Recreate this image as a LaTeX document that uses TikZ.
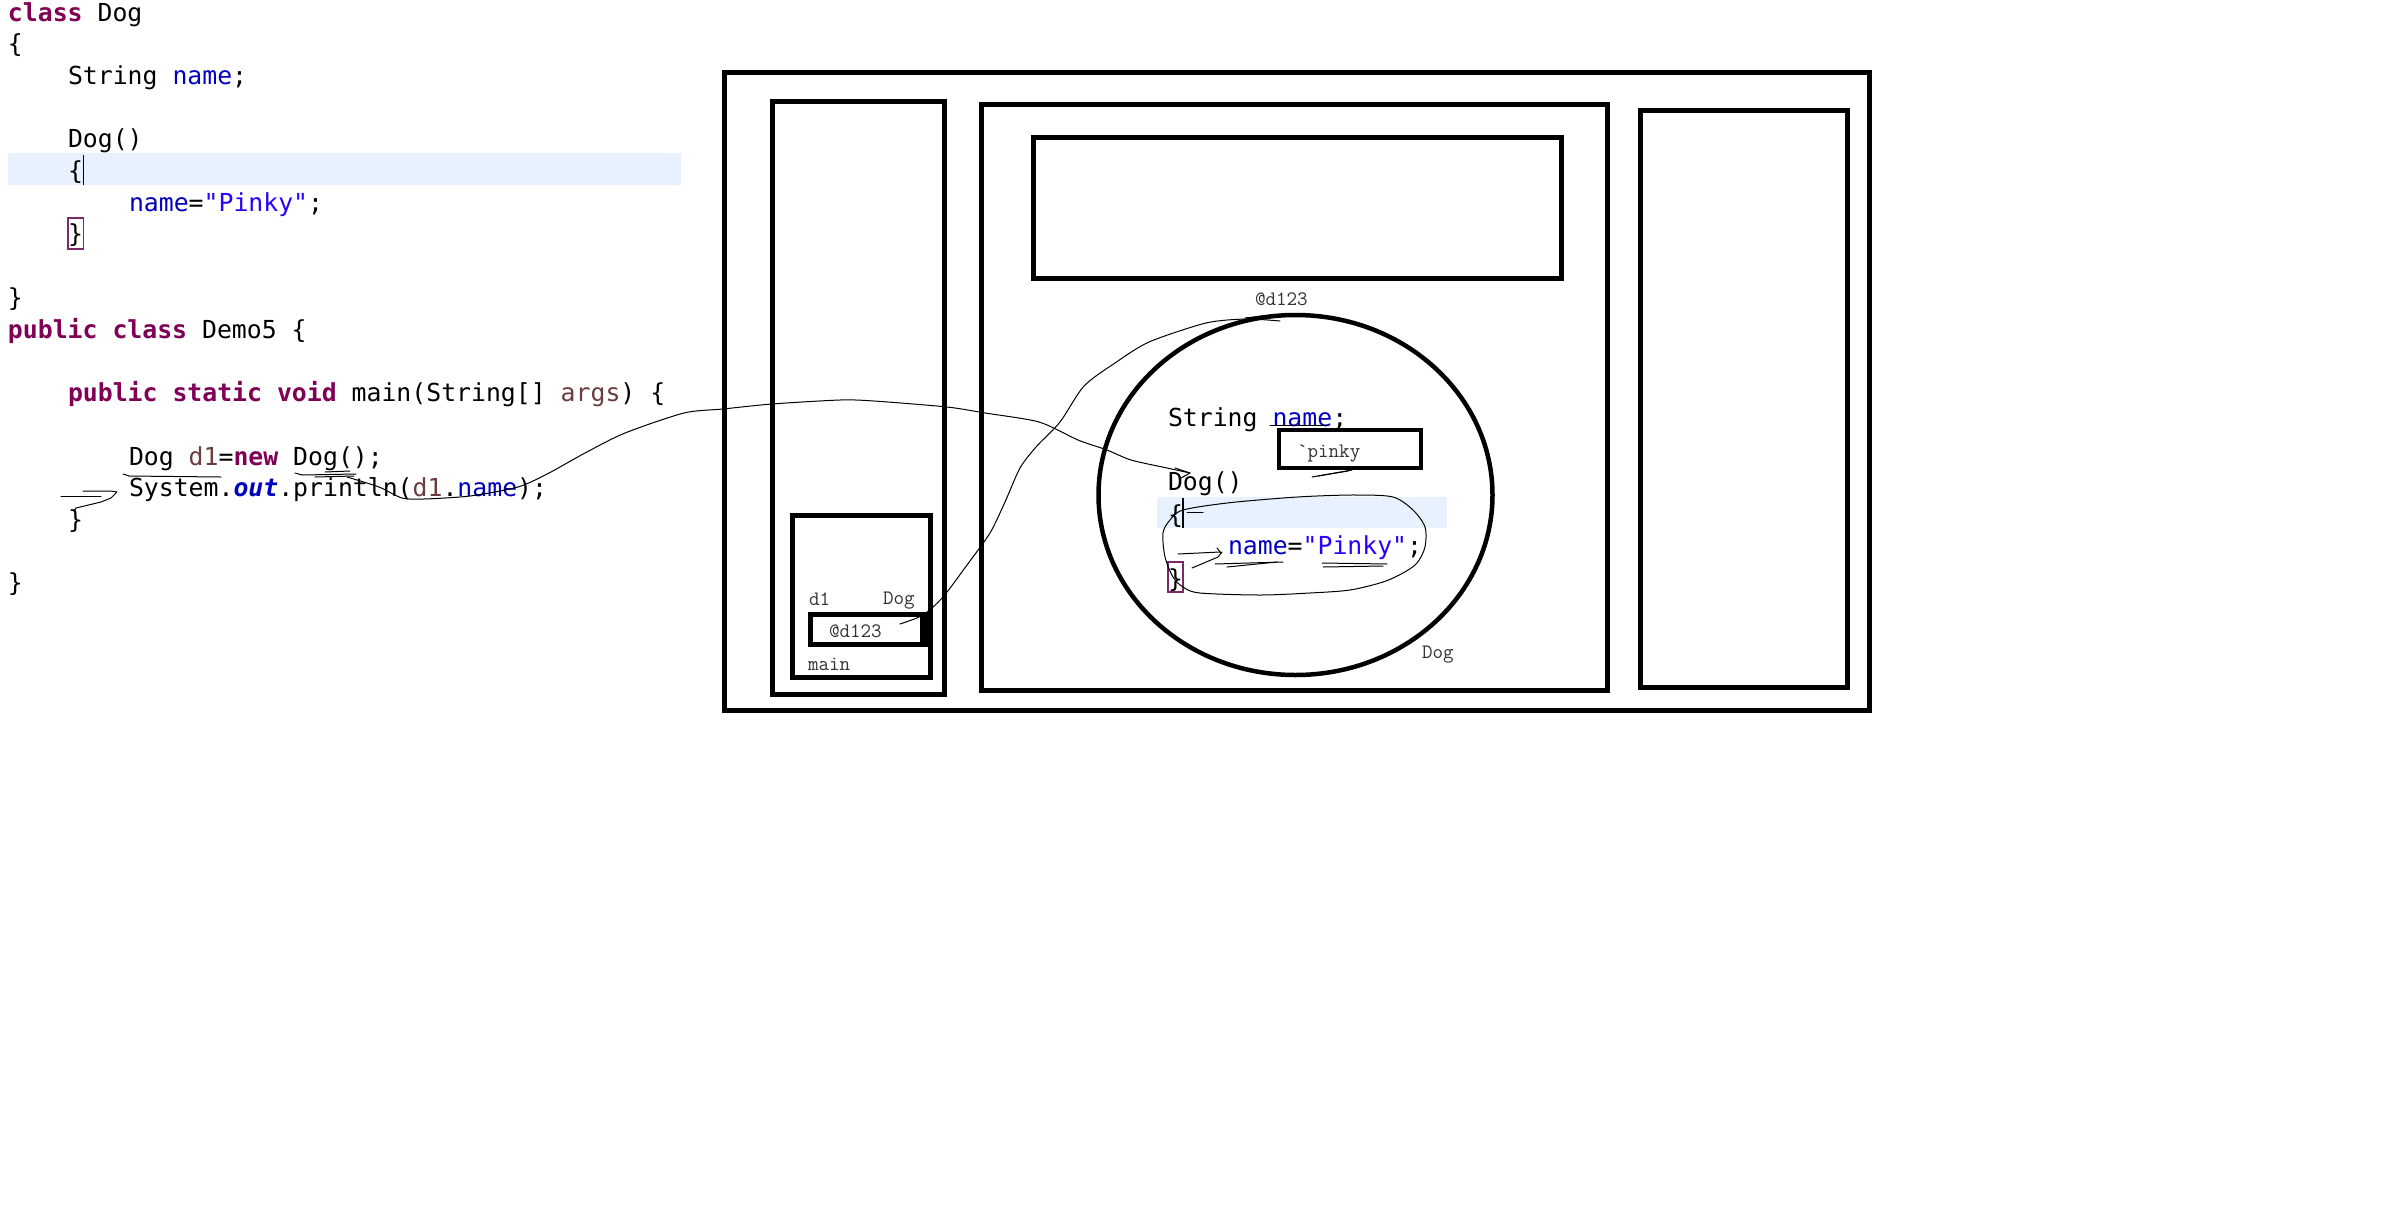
\documentclass[tikz,border=0pt]{standalone}
\usepackage{fontspec}
\newfontfamily\codefont{DejaVu Sans Mono}
\usetikzlibrary{shapes.geometric}
\definecolor{kw}{HTML}{7F0055}
\definecolor{fld}{HTML}{0000C0}
\definecolor{loc}{HTML}{6A3E3E}
\definecolor{strc}{HTML}{2A00FF}
\definecolor{hl}{HTML}{E8F2FE}
\definecolor{brk}{HTML}{7A2A66}
\newcommand\kwd[1]{\textcolor{kw}{\bfseries #1}}
\newcommand\fldn[1]{\textcolor{fld}{#1}}
\newcommand\locv[1]{\textcolor{loc}{#1}}
\newcommand\strl[1]{\textcolor{strc}{#1}}
\newcommand\outf[1]{\textcolor{fld}{\bfseries\itshape #1}}
\begin{document}
\begin{tikzpicture}[x=1pt,y=-1pt,
  code/.style={anchor=base west, inner sep=0pt, outer sep=0pt, font=\codefont\fontsize{24.8}{30}\selectfont},
  lbl/.style={anchor=base west, inner sep=0pt, outer sep=0pt, font=\ttfamily\fontsize{20.5}{24}\selectfont, text=black!80},
  box/.style={draw, line width=5pt, inner sep=0pt, outer sep=0pt},
  smallbox/.style={draw, line width=4.5pt, inner sep=0pt, outer sep=0pt},
  hand/.style={line width=1pt, line cap=round, line join=round},
  band/.style={fill=hl, draw=none},
  brbox/.style={draw=brk, line width=1.3pt},
  cursor/.style={line width=1.6pt}
]
\useasboundingbox (0,0) rectangle (2383,1208);
\fill[white] (0,0) rectangle (2383,1208);

% ---------------- left code ----------------
\fill[band] (8,153) rectangle (681,185);
\node[code] (l0)  at (8,21)    {\kwd{class} Dog};
\node[code] (l1)  at (8,52.7)  {\{};
\node[code] (l2)  at (68,84.4) {String \fldn{name};};
\node[code] (l4)  at (68,147.8) {Dog()};
\node[code] (l5)  at (68,179.5) {\{};
\draw[cursor] (83.5,155) -- (83.5,185);
\node[code] (l6)  at (129,211.2) {\fldn{name}=\strl{"Pinky"};};
\node[code] (l7)  at (68,242.9) {\}};
\draw[brbox] (68,218) rectangle (83.5,249);
\node[code] (l9)  at (8,306.3) {\}};
\node[code] (l10) at (8,338) {\kwd{public} \kwd{class} Demo5 \{};
\node[code] (l12) at (68,401.4) {\kwd{public} \kwd{static} \kwd{void} main(String[] \locv{args}) \{};
\node[code] (l14) at (129,465) {Dog \locv{d1}=\kwd{new} Dog();};
\node[code] (l15) at (129,496.5) {System.\outf{out}.println(\locv{d1}.\fldn{name});};
\node[code] (l16) at (68,528) {\}};
\node[code] (l18) at (8,591.5) {\}};

% ---------------- memory boxes ----------------
\node[box, minimum width=1145pt, minimum height=638pt] (outer) at (1296.5,391) {};
\node[box, minimum width=172pt, minimum height=593pt] (stack) at (858,397.5) {};
\node[box, minimum width=138pt, minimum height=162pt] (mainfr) at (861,596) {};
\node[smallbox, minimum width=115pt, minimum height=30pt] (refbox) at (868,629.5) {};
\fill ([xshift=-6pt,yshift=2pt]refbox.north east) rectangle ([yshift=-2pt]refbox.south east);
\node[box, minimum width=626pt, minimum height=586pt] (heap) at (1294,397) {};
\node[box, minimum width=528pt, minimum height=141pt] (pool) at (1297,207.5) {};
\node[box, minimum width=207pt, minimum height=577pt] (rightbox) at (1743.5,398.5) {};

% stack labels
\node[lbl] (d1lbl) at (809,605) {d1};
\node[lbl] (doglbl) at (883,604) {Dog};
\node[lbl] (reflbl) at (829,637) {@d123};
\node[lbl] (mainlbl) at (808,670) {main};

% ---------------- object ----------------
\node[ellipse, draw, line width=4.5pt, minimum width=394pt, minimum height=360pt, inner sep=0pt] (obj) at (1295.5,495) {};
\node[lbl] (addr) at (1255,305) {@d123};
\node[lbl] (objdog) at (1422,658) {Dog};

\fill[band] (1157,497) rectangle (1447,528);
\node[code] (e2) at (1168,426) {String \fldn{name};};
\node[smallbox, minimum width=142pt, minimum height=38pt] (pinkybox) at (1350,449) {};
\node[lbl] (pinky) at (1297,457) {`pinky};
\node[code] (e4) at (1168,490) {Dog()};
\node[code] (e5) at (1168,523) {\{};
\draw[cursor] (1183,498) -- (1183,528);
\node[code] (e6) at (1228,554) {\fldn{name}=\strl{"Pinky"};};
\node[code] (e7) at (1168,587) {\}};
\draw[brbox] (1168,562) rectangle (1183,592);

% ---------------- hand-drawn strokes ----------------
% underlines in main code
\draw[hand] (123,474) -- (129,476) -- (221,477);
\draw[hand] (295,473) -- (302,475) -- (356,474);
\draw[hand] (315,477) -- (354,476);
\draw[hand] (325,472) -- (350,471);
% arrow at System.out
\draw[hand] (61,496) -- (101,496);
\draw[hand] (83,491) -- (111,491) -- (117,492) -- (111,498) -- (101,502) -- (76,508) -- (74,511);

% curve from println(d1.name) to Dog() in the object
\coordinate (cAstart) at (347,477);
\coordinate (cAend) at (1190,473);
\draw[hand] plot[smooth, tension=0.45] coordinates {(cAstart) (379,487) (402,498) (424,499) (470,496) (518,487) (549,473) (585,453) (625,433) (684,413) (723,409) (772,404) (840,400) (874,401) (947,407) (985,413) (1039,422) (1078,440) (1107,450) (1131,460) (1167,468) (cAend)};
\draw[hand] (1175,468) -- (cAend) -- (1181,478);

% curve from reference in stack to the object
\coordinate (cBstart) at (900,624);
\coordinate (cBend) at (1280,321);
\draw[hand] plot[smooth, tension=0.45] coordinates {(cBstart) (923,615) (943,597) (967,565) (990,533) (1005,502) (1020,468) (1036,447) (1060,422) (1084,386) (1115,363) (1149,342) (1206,323) (1246,319) (cBend)};
\draw[hand] (1245,318) -- (1262,316);

% strokes inside the object
\draw[hand] (1270,425) -- (1326,425);
\draw[hand] (1312,477) -- (1352,470);
\draw[hand] (1318,476) -- (1348,471);
\draw[hand] plot[smooth cycle, tension=0.5] coordinates {(1183,510) (1227,503) (1283,498) (1317,496) (1357,495) (1393,497) (1413,510) (1425,527) (1425,547) (1417,563) (1403,573) (1383,582) (1350,590) (1310,593) (1260,595) (1200,593) (1183,587) (1173,577) (1165,557) (1163,533) (1170,520)};
\draw[hand] (1187,512) -- (1203,512);
\draw[hand] (1178,554) -- (1220,552);
\draw[hand] (1217,548) -- (1221,553);
\draw[hand] (1192,568) -- (1218,557) -- (1222,552);
\draw[hand] (1215,564) -- (1283,562);
\draw[hand] (1227,567) -- (1277,562);
\draw[hand] (1322,563) -- (1387,564);
\draw[hand] (1323,567) -- (1383,566);
\end{tikzpicture}
\end{document}
